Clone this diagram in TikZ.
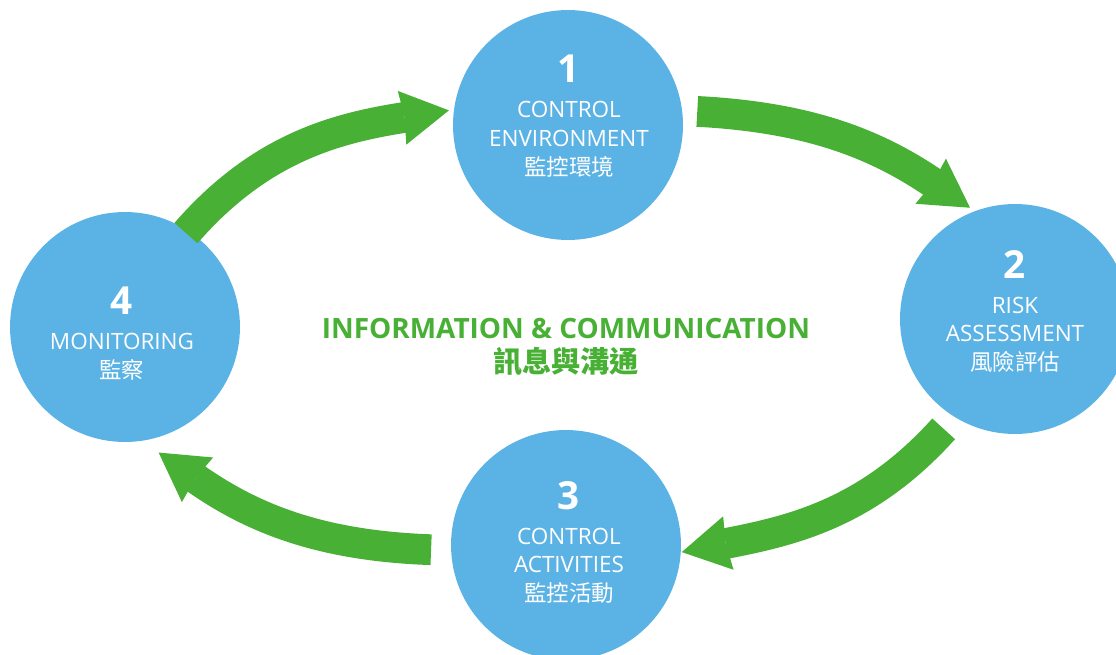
\documentclass[tikz,border=0pt]{standalone}
\usepackage{fontspec}
\setmainfont{Open Sans}
\newfontfamily\cjk{Noto Sans CJK TC}
\usetikzlibrary{calc, arrows.meta}

\definecolor{stageblue}{RGB}{91,178,228}
\definecolor{flowgreen}{RGB}{72,176,53}

\tikzset{
  stage/.style={circle, fill=stageblue, minimum size=4.6cm, inner sep=0pt},
  stagetext/.style={text=white, align=center, anchor=north, inner sep=0pt,
    font=\fontsize{12.8}{16.4}\selectfont},
  flow/.style={draw=flowgreen, line width=17.5pt,
    -{Stealth[length=27pt, width=31pt, inset=1.5pt, line width=0pt]}},
  infotext/.style={text=flowgreen, align=center, anchor=north, inner sep=0pt,
    font=\bfseries\fontsize{15.9}{19.3}\selectfont}
}

\begin{document}
\begin{tikzpicture}[x=0.02cm, y=0.02cm]
\useasboundingbox (0,0) rectangle (1116,654);
% Draw the four stages
\node[stage] (environment) at (568,529) {};
\node[stage] (risk) at (1015,335) {};
\node[stage] (activities) at (566,109) {};
\node[stage] (monitoring) at (125,327) {};
% Stage texts
\node[stagetext] (environment text) at (569,599)
  {{\fontsize{22}{22}\selectfont\bfseries 1}\\[3.4pt] CONTROL\\ ENVIRONMENT\\ {\cjk 監控環境}};
\node[stagetext] (risk text) at (1015,404)
  {{\fontsize{22}{22}\selectfont\bfseries 2}\\[3.4pt] RISK\\ ASSESSMENT\\ {\cjk 風險評估}};
\node[stagetext] (activities text) at (569,173)
  {{\fontsize{22}{22}\selectfont\bfseries 3}\\[3.4pt] CONTROL\\ ACTIVITIES\\ {\cjk 監控活動}};
\node[stagetext] (monitoring text) at (122,367)
  {{\fontsize{22}{22}\selectfont\bfseries 4}\\[3.4pt] MONITORING\\ {\cjk 監察}};
% Draw arrows between stages
\draw[flow] ($(monitoring)+(57:112)$) to[out=49, in=189] ($(environment)+(173:120)$);
\draw[flow] ($(environment)+(6:130)$) to[out=-3, in=146] ($(risk)+(112:120)$);
\draw[flow] ($(risk)+(237:131)$) to[out=228, in=11] ($(activities)+(-3.5:116)$);
\draw[flow] ($(activities)+(182:135)$) to[out=178, in=325] ($(monitoring)+(-75:130)$);
% Centre text
\node[infotext] (info) at (566,336) {INFORMATION \& COMMUNICATION\\ {\cjk\fontsize{16.6}{19.3}\selectfont 訊息與溝通}};
\end{tikzpicture}
\end{document}
